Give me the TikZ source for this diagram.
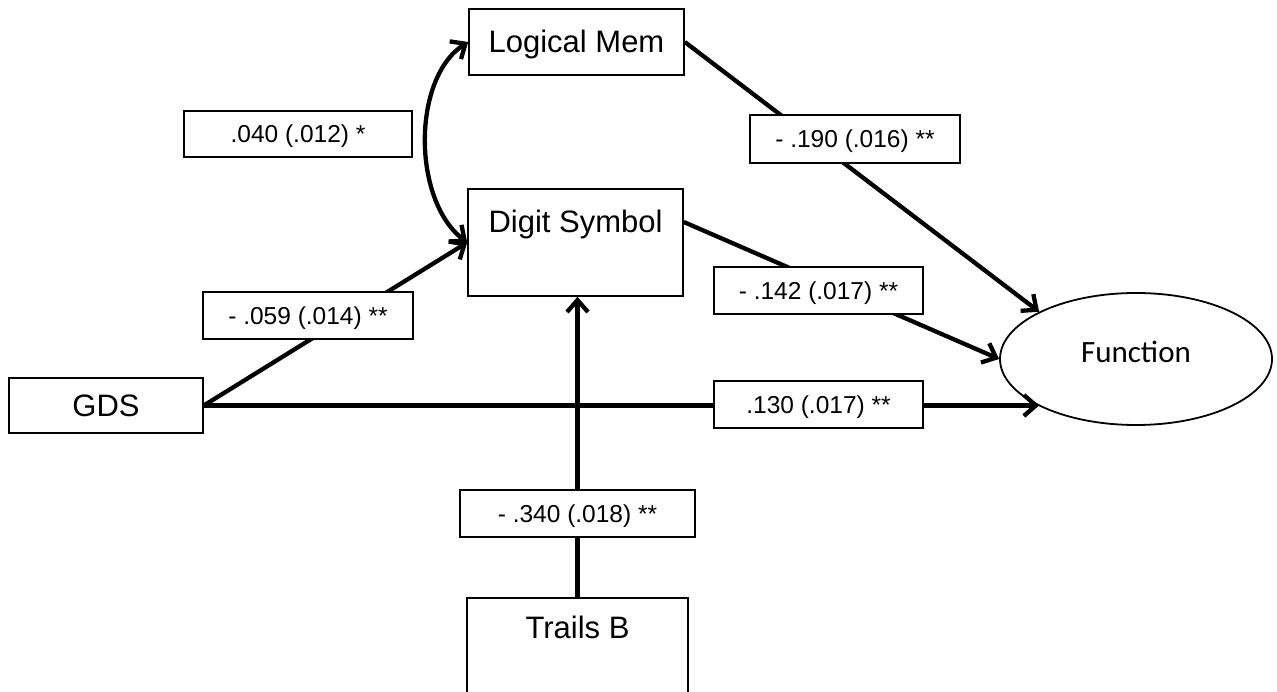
\documentclass[tikz,border=0pt]{standalone}
\usepackage{fontspec}
\setmainfont{Liberation Sans}
\newfontfamily\calibrifont{Carlito}
\usetikzlibrary{arrows.meta,shapes.geometric}
\tikzset{
  varbox/.style={draw, line width=1.6pt, inner sep=0pt, font=\fontsize{31}{36}\selectfont, text height=22pt, text depth=0pt},
  coefbox/.style={draw, fill=white, line width=1.6pt, inner sep=0pt, font=\fontsize{24.5}{30}\selectfont, text height=17.5pt, text depth=0pt},
  tipbarb/.tip={Straight Barb[length=12pt,width=21pt]},
  conn/.style={line width=4.3pt, -tipbarb},
  covconn/.style={line width=4.3pt, tipbarb-tipbarb}
}
\begin{document}
\begin{tikzpicture}[x=1pt,y=-1pt]
\useasboundingbox (0,0) rectangle (1277,692);
\clip (0,0) rectangle (1277,692);
\fill[white] (0,0) rectangle (1277,692);

\node[varbox, minimum width=215pt, minimum height=66pt] (LM) at (576.5,42) {Logical Mem};
\node[varbox, minimum width=215pt, text height=44pt, text depth=63pt] (DS) at (575.5,242.5) {Digit Symbol};
\node[varbox, minimum width=194pt, minimum height=55pt] (G) at (106,405.5) {GDS};
\node[varbox, minimum width=221pt, text height=40pt, text depth=64pt] (TB) at (577.5,650) {Trails B};
\node[draw, ellipse, line width=1.8pt, minimum width=272pt, minimum height=132pt, inner sep=0pt, text height=20pt, text depth=12pt, font=\calibrifont\fontsize{31}{36}\selectfont] (F) at (1136,359) {Function};

\draw[conn] (G.east) -- (DS.west);
\draw[conn] (G.east) -- (F.206 |- G.east);
\draw[conn] (LM.east) -- (F.154);
\draw[conn] ([yshift=20.5pt]DS.east) -- (F.west);
\draw[conn] (TB.north) -- (TB.north |- DS.south);
\draw[covconn] (DS.west) .. controls (412,200) and (412,78) .. (LM.west);

\node[coefbox, minimum width=228pt, minimum height=46pt] (c040) at (298,134) {.040 (.012) *};
\node[coefbox, minimum width=210pt, minimum height=48pt] (c190) at (855,139) {- .190 (.016) **};
\node[coefbox, minimum width=209pt, minimum height=47pt] (c142) at (818.5,290.5) {- .142 (.017) **};
\node[coefbox, minimum width=210pt, minimum height=47pt] (c059) at (308,315.5) {- .059 (.014) **};
\node[coefbox, minimum width=209pt, minimum height=47pt] (c130) at (818.5,404.5) {.130 (.017) **};
\node[coefbox, minimum width=235pt, minimum height=47pt] (c340) at (577.5,513.5) {- .340 (.018) **};
\end{tikzpicture}
\end{document}
